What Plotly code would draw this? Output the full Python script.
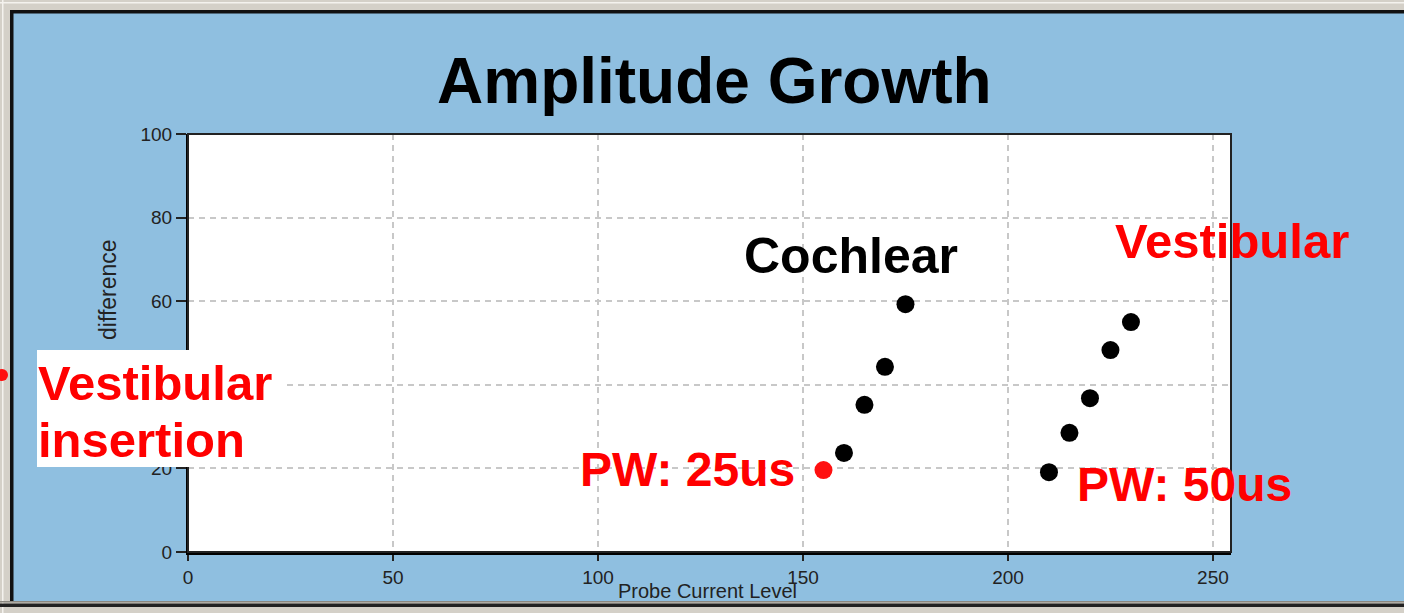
import plotly.graph_objects as go

# ---- data ----
cochlear_x = [155, 160, 165, 170, 175]
cochlear_y = [19.6, 23.7, 35.2, 44.3, 59.3]
vestibular_x = [210, 215, 220, 225, 230]
vestibular_y = [19.1, 28.5, 36.8, 48.3, 55.0]
x_ticks = [0, 50, 100, 150, 200, 250]
y_ticks = [0, 20, 40, 60, 80, 100]
y_tick_text = ["0", "20", "", "60", "80", "100"]  # "40" is hidden under the label box

W, H = 1404, 613
L, R, T, B = 188, 1231, 134, 552
PW, PH = R - L, B - T

def px(xp):
    return (xp - L) / PW

def py(yp):
    return (B - yp) / PH

BLUE = "#8FBFE0"
GRAY = "#D4D0C8"
FONT = "Liberation Sans, Arial, sans-serif"

fig = go.Figure()
fig.add_trace(go.Scatter(x=cochlear_x[1:], y=cochlear_y[1:], mode="markers",
                         marker=dict(color="black", size=18), showlegend=False))
fig.add_trace(go.Scatter(x=cochlear_x[:1], y=cochlear_y[:1], mode="markers",
                         marker=dict(color="#FF1010", size=18), showlegend=False))
fig.add_trace(go.Scatter(x=vestibular_x, y=vestibular_y, mode="markers",
                         marker=dict(color="black", size=18), showlegend=False))

shapes = []
def rect(x0, y0, x1, y1, color, layer="above"):
    shapes.append(dict(type="rect", xref="paper", yref="paper",
                       x0=px(x0), x1=px(x1), y0=py(y0), y1=py(y1),
                       fillcolor=color, line=dict(width=0), layer=layer))

# plot frame (top/right)
shapes.append(dict(type="rect", xref="paper", yref="paper", x0=0, x1=1, y0=0, y1=1,
                   line=dict(color="#222222", width=2), layer="above"))
# window borders
rect(0, 0, W, 10, GRAY)
rect(0, 0, 10, H, GRAY)
rect(0, 601, W, H, GRAY)
rect(0, 2, W, 3.5, "#F4F2EE")
rect(2, 0, 3.5, H, "#F4F2EE")
rect(10, 10, W, 13.5, "#111111")
rect(10, 10, 13.5, 602, "#111111")
rect(0, 603.5, W, 607, "#222222")
rect(0, 601, W, 602.5, "#8A8780")
# white label box
rect(37, 350, 285, 467, "white")
# red dot at left edge
shapes.append(dict(type="circle", xref="paper", yref="paper",
                   x0=px(-4), x1=px(8), y0=py(381), y1=py(369),
                   fillcolor="#FF1010", line=dict(width=0), layer="above"))

ann = []
def text(t, xp, yp, size, color, xanchor="center", yanchor="middle", bold=True, angle=0):
    ann.append(dict(text=f"<b>{t}</b>" if bold else t, xref="paper", yref="paper",
                    x=px(xp), y=py(yp), xanchor=xanchor, yanchor=yanchor,
                    showarrow=False, textangle=angle,
                    font=dict(family=FONT, size=size, color=color)))

text("Amplitude Growth", 714, 81, 64, "black")
text("Cochlear", 851, 256, 50, "black")
text("Vestibular", 1232, 241, 49, "#FF0000")
text("PW: 25us", 687, 469, 48, "#FF0000")
text("PW: 50us", 1184, 484, 48, "#FF0000")
text("Vestibular", 36, 383, 49, "#FF0000", xanchor="left")
text("insertion", 36, 440, 49, "#FF0000", xanchor="left")
text("difference", 108, 290, 23, "#222222", bold=False, angle=-90)
text("Probe Current Level", 707, 591, 20, "#222222", bold=False)

fig.update_layout(
    width=W, height=H,
    margin=dict(l=L, r=W - R, t=T, b=H - B, pad=0),
    paper_bgcolor=BLUE, plot_bgcolor="white",
    shapes=shapes, annotations=ann, showlegend=False,
    xaxis=dict(range=[0, 254.4], tickvals=x_ticks, showgrid=True,
               gridcolor="#C8C8C8", gridwidth=1.5, griddash="6px,5px",
               showline=True, linecolor="black", linewidth=3,
               ticks="outside", ticklen=6, tickwidth=1.5, tickcolor="#222222",
               tickfont=dict(family=FONT, size=19, color="#222222"),
               zeroline=False, fixedrange=True),
    yaxis=dict(range=[0, 100], tickvals=y_ticks, ticktext=y_tick_text, showgrid=True,
               gridcolor="#C8C8C8", gridwidth=1.5, griddash="6px,5px",
               showline=True, linecolor="black", linewidth=2,
               ticks="outside", ticklen=10, tickwidth=1.5, tickcolor="#222222",
               tickfont=dict(family=FONT, size=19, color="#222222"),
               zeroline=False, fixedrange=True),
)

fig.write_html("out.html", config={"displayModeBar": False},
               post_script="document.body.style.margin='0';document.body.style.padding='0';")
